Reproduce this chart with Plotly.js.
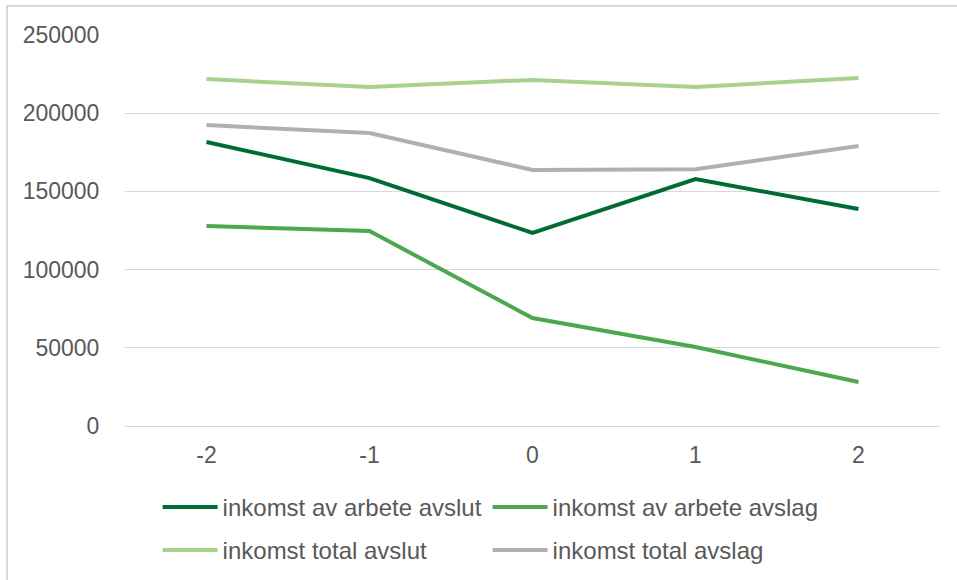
<!DOCTYPE html>
<html>
<head>
<meta charset="utf-8">
<script src="https://cdn.plot.ly/plotly-3.0.1.min.js"></script>
<style>
  html, body { margin: 0; padding: 0; background: #ffffff; }
  #wrap { position: relative; width: 957px; height: 580px; overflow: hidden; }
  #chart { position: absolute; left: 0; top: 0; width: 957px; height: 580px; }
  #frame { position: absolute; left: 6px; top: 5px; width: 1000px; height: 700px;
           border-left: 2px solid #d9d9d9; border-top: 2px solid #d9d9d9; pointer-events: none; }
</style>
</head>
<body>
<div id="wrap">
  <div id="chart"></div>
  <div id="frame"></div>
</div>
<script>
// Years relative to the decision
const years = ['-2', '-1', '0', '1', '2'];

// Income series
const arbeteAvslut = [181600, 158500, 123400, 157900, 138700];
const arbeteAvslag = [127900, 124700, 69000, 50500, 28100];
const totalAvslut  = [221800, 216800, 221300, 216800, 222500];
const totalAvslag  = [192400, 187300, 163700, 164200, 179000];

const seriesNames = [
  'inkomst av arbete avslut',
  'inkomst av arbete avslag',
  'inkomst total avslut',
  'inkomst total avslag'
];
const yTicks = [0, 50000, 100000, 150000, 200000, 250000];

const colors = ['#006B35', '#4EA64F', '#A9D18E', '#B0B0B0'];
const values = [arbeteAvslut, arbeteAvslag, totalAvslut, totalAvslag];
const legendIds = ['legend', 'legend', 'legend2', 'legend2'];

const font = { family: 'Liberation Sans, Arial, sans-serif', size: 23, color: '#595959' };
const legendFont = { family: 'Liberation Sans, Arial, sans-serif', size: 24, color: '#595959' };

const traces = values.map((v, i) => ({
  type: 'scatter',
  mode: 'lines',
  x: years,
  y: v,
  name: seriesNames[i],
  legend: legendIds[i],
  line: { color: colors[i], width: 4 },
  hoverinfo: 'x+y+name'
}));

const legendBase = {
  orientation: 'h',
  xanchor: 'left',
  yanchor: 'middle',
  x: 0.04,
  font: legendFont,
  bgcolor: 'rgba(0,0,0,0)',
  borderwidth: 0,
  entrywidth: 260,
  entrywidthmode: 'pixels',
  itemwidth: 55,
  traceorder: 'normal'
};

const layout = {
  width: 957,
  height: 580,
  margin: { l: 125, r: 17, t: 35, b: 154, autoexpand: false },
  paper_bgcolor: '#ffffff',
  plot_bgcolor: '#ffffff',
  font: font,
  showlegend: true,
  xaxis: {
    type: 'category',
    range: [-0.5, years.length - 0.5],
    showgrid: false,
    zeroline: false,
    showline: false,
    ticks: 'outside',
    ticklen: 8,
    tickcolor: 'rgba(0,0,0,0)',
    tickfont: font,
    fixedrange: true
  },
  yaxis: {
    range: [0, 250000],
    tickvals: yTicks,
    ticktext: yTicks.map(String),
    showgrid: true,
    gridcolor: '#d9d9d9',
    gridwidth: 1,
    zeroline: true,
    zerolinecolor: '#d9d9d9',
    zerolinewidth: 1,
    showline: false,
    ticks: 'outside',
    ticklen: 20,
    tickcolor: 'rgba(0,0,0,0)',
    tickfont: font,
    fixedrange: true
  },
  legend: Object.assign({}, legendBase, { y: -0.208 }),
  legend2: Object.assign({}, legendBase, { y: -0.318 })
};

Plotly.newPlot('chart', traces, layout, { displayModeBar: false, staticPlot: true });
</script>
</body>
</html>
